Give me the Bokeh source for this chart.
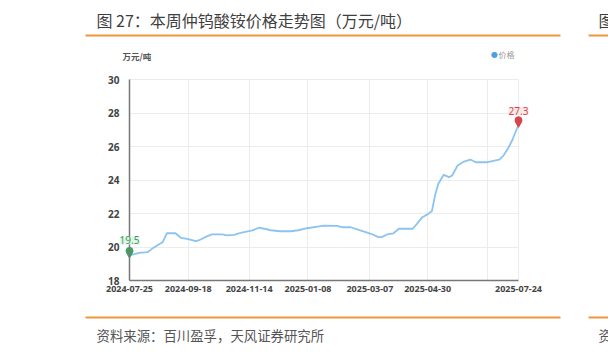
from bokeh.plotting import figure
from bokeh.models import Label, BoxAnnotation, FixedTicker, Range1d
from bokeh.embed import file_html
from bokeh.resources import INLINE
import pandas as pd

# ---- data ----
dates = ["2024-07-25", "2024-08-03", "2024-08-11", "2024-08-15", "2024-08-21", "2024-08-25",
         "2024-08-29", "2024-09-06", "2024-09-11", "2024-09-17", "2024-09-25", "2024-09-29",
         "2024-10-06", "2024-10-10", "2024-10-20", "2024-10-24", "2024-10-31", "2024-11-06",
         "2024-11-17", "2024-11-23", "2024-11-28", "2024-12-04", "2024-12-13", "2024-12-23",
         "2024-12-30", "2025-01-07", "2025-01-17", "2025-01-23", "2025-02-04", "2025-02-09",
         "2025-02-17", "2025-02-26", "2025-03-08", "2025-03-15", "2025-03-18", "2025-03-23",
         "2025-03-29", "2025-04-03", "2025-04-16", "2025-04-20", "2025-04-25", "2025-04-30",
         "2025-05-04", "2025-05-07", "2025-05-10", "2025-05-15", "2025-05-20", "2025-05-23",
         "2025-05-28", "2025-06-03", "2025-06-09", "2025-06-14", "2025-06-25", "2025-07-06",
         "2025-07-10", "2025-07-14", "2025-07-18", "2025-07-24"]
prices = [19.5, 19.65, 19.69, 19.89, 20.13, 20.29,
          20.82, 20.82, 20.55, 20.49, 20.35, 20.43,
          20.65, 20.75, 20.75, 20.69, 20.73, 20.85,
          20.99, 21.15, 21.09, 21.0, 20.94, 20.94,
          21.0, 21.12, 21.22, 21.28, 21.26, 21.18,
          21.18, 20.99, 20.79, 20.59, 20.59, 20.75,
          20.82, 21.09, 21.09, 21.38, 21.78, 21.95,
          22.15, 23.1, 23.78, 24.31, 24.17, 24.27,
          24.87, 25.10, 25.22, 25.06, 25.06, 25.22,
          25.46, 25.86, 26.36, 27.3]
label_dates = ["2024-07-25", "2024-09-18", "2024-11-14", "2025-01-08", "2025-03-07", "2025-04-30", "2025-07-24"]
grid_dates = ["2024-07-25", "2024-09-18", "2024-11-14", "2025-01-08", "2025-03-07", "2025-04-30", "2025-06-25", "2025-07-24"]
y_ticks = [18, 20, 22, 24, 26, 28, 30]
series_name = "价格"
unit_text = "万元/吨"
title_text = "图 27：本周仲钨酸铵价格走势图（万元/吨）"
source_text = "资料来源：百川盈孚，天风证券研究所"

def ms(d):
    return pd.Timestamp(d).timestamp() * 1000

x_ms = [ms(d) for d in dates]
lab_ms = [ms(d) for d in label_dates]
grid_ms = [ms(d) for d in grid_dates]
y_lo, y_hi = y_ticks[0], y_ticks[-1]
t0, t1 = x_ms[0], x_ms[-1]

# ---- layout (canvas pixels) ----
W, H = 608, 354
CL, CR, CT, CB = 129, 518, 79, 280          # chart area inside the canvas
kx = (CR - CL) / (t1 - t0)                  # px per ms
ky = (CB - CT) / (y_hi - y_lo)              # px per unit

p = figure(width=W, height=H, x_axis_type="datetime", output_backend="svg",
           toolbar_location=None, min_border=0,
           min_border_left=0, min_border_right=0, min_border_top=0, min_border_bottom=0)
p.title.visible = False
p.x_range = Range1d(t0 - CL / kx, t0 + (W - CL) / kx)
p.y_range = Range1d(y_lo - (H - CB) / ky, y_lo + CB / ky)
p.outline_line_color = None
p.background_fill_color = "white"
p.border_fill_color = "white"

CJK = "Noto Sans CJK SC"

# axes drawn at the chart's own origin
xa, ya = p.xaxis[0], p.yaxis[0]
xa.fixed_location = y_lo
ya.fixed_location = t0
xa.bounds = (t0, t1)
ya.bounds = (y_lo, y_hi)
xa.ticker = FixedTicker(ticks=lab_ms)
xa.major_label_overrides = {t: d for t, d in zip(lab_ms, label_dates)}
ya.ticker = FixedTicker(ticks=y_ticks)
for ax in (xa, ya):
    ax.axis_line_color = "#777777"
    ax.axis_line_width = 1.5
    ax.major_tick_line_color = None
    ax.minor_tick_line_color = None
    ax.major_label_text_font = "Noto Sans"
    ax.major_label_text_font_style = "bold"
    ax.major_label_text_color = "#444444"
xa.major_label_text_font_size = "9px"
ya.major_label_text_font_size = "10px"
xa.major_label_standoff = -1
ya.major_label_standoff = 4

p.xgrid.ticker = FixedTicker(ticks=grid_ms)
p.xgrid.bounds = (t0, t1)
p.xgrid.cross_bounds = (y_lo, y_hi)
p.ygrid.bounds = (y_lo, y_hi)
p.ygrid.cross_bounds = (t0, t1)
p.xgrid.grid_line_color = "#ececec"
p.ygrid.grid_line_color = "#ececec"

# price line
p.line(x_ms, prices, line_color="#8cc3f0", line_width=1.8)

# start / end pins
i0, i1 = 0, len(prices) - 1
pin_off = 4.5 / ky
for i, col in ((i0, "#3aa35f"), (i1, "#d9434b")):
    p.scatter([x_ms[i]], [prices[i]], marker="inverted_triangle", size=4.5, color=col)
    p.scatter([x_ms[i]], [prices[i] + pin_off], marker="circle", size=7, color=col)
p.add_layout(Label(x=x_ms[i0], y=prices[i0], text=f"{prices[i0]}", text_align="center",
                   text_baseline="middle", y_offset=15, text_font="Noto Sans",
                   text_font_size="10px", text_color="#3a9a5a",
                   background_fill_color="#dff3e5", background_fill_alpha=0.9))
p.add_layout(Label(x=x_ms[i1], y=prices[i1], text=f"{prices[i1]}", text_align="center",
                   text_baseline="middle", y_offset=14, text_font="Noto Sans",
                   text_font_size="10px", text_color="#d04a4a",
                   background_fill_color="#fbe4e4", background_fill_alpha=0.9))

# texts placed in canvas pixels (screen units: from left, from bottom)
def lab(cx, cy, text, size, color, font=CJK, style="normal", align="left"):
    p.add_layout(Label(x=cx, y=H - cy, text=text, x_units="screen", y_units="screen",
                       text_font=font, text_font_size=size, text_color=color,
                       text_font_style=style, text_align=align, text_baseline="middle"))

lab(96, 19, title_text, "16px", "#3f3f3f")
lab(598, 19, title_text[0], "16px", "#3f3f3f")
lab(96, 334, source_text, "13.4px", "#555555")
lab(598, 334, source_text[0], "13.4px", "#555555")
lab(122, 55, unit_text, "8.5px", "#555555", style="bold")
lab(494, 54, "●", "8px", "#4a9fe8", font="DejaVu Sans", align="center")
lab(498, 54, series_name, "8px", "#999999")

# orange rules
for (l, r, cy) in [(85, 560, 35), (588, 608, 35), (85, 560, 317), (588, 608, 317)]:
    p.add_layout(BoxAnnotation(left=l, right=r, top=H - cy + 1, bottom=H - cy - 1,
                               left_units="screen", right_units="screen",
                               top_units="screen", bottom_units="screen",
                               fill_color="#f0963c", fill_alpha=1, line_color=None))

open("out.html", "w").write(file_html(p, INLINE))
